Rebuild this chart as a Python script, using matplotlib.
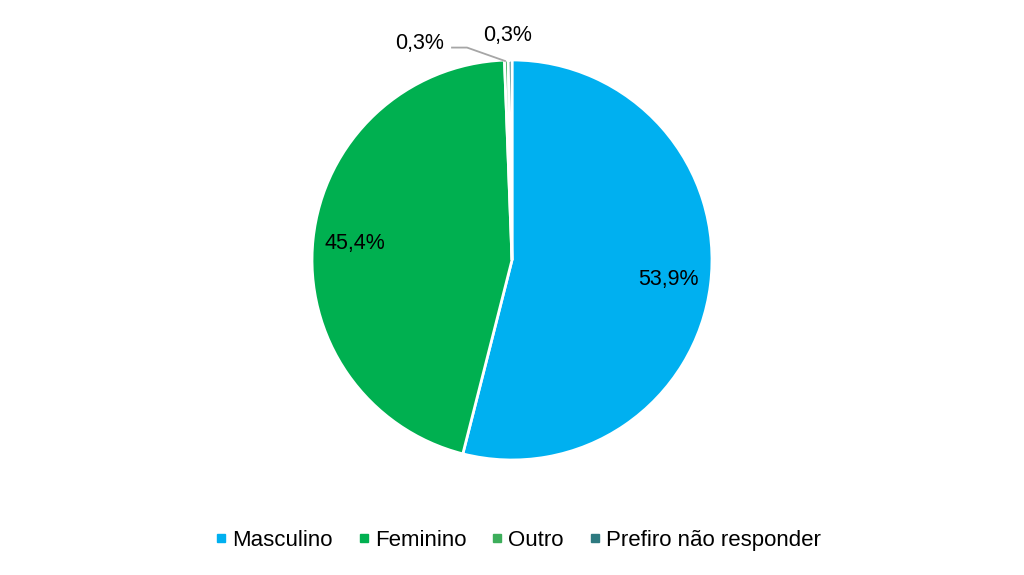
import matplotlib
matplotlib.use("Agg")
import matplotlib.pyplot as plt
from matplotlib.lines import Line2D
import numpy as np

categories = ["Masculino", "Feminino", "Outro", "Prefiro não responder"]
values = [53.9, 45.4, 0.3, 0.3]
colors = ["#00B0F0", "#00B050", "#3DAE5B", "#2E7A80"]

plt.rcParams['font.family'] = ['Liberation Sans', 'DejaVu Sans']

fig = plt.figure(figsize=(10.24, 5.75), dpi=100)
ax = fig.add_axes([0.3047, 0.2, 0.3906, 0.6957])

def fmt(v):
    return f"{v:.1f}%".replace(".", ",")

wedges, _ = ax.pie(values, colors=colors, startangle=90, counterclock=False,
                   radius=1, wedgeprops=dict(edgecolor="white", linewidth=2))
ax.set_xlim(-1, 1)
ax.set_ylim(-1, 1)
ax.set_aspect('auto')
ax.axis('off')

FS = 15.5
for w, v in zip(wedges, values):
    ang = np.deg2rad((w.theta1 + w.theta2) / 2)
    if v > 5:
        r = 0.79
        ax.text(r * np.cos(ang), r * np.sin(ang), fmt(v), ha='center', va='center',
                fontsize=FS, color='black')

# small slices: outside labels
ax.text(-0.46, 1.08, fmt(values[2]), ha='center', va='center', fontsize=FS)
ax.plot([-0.30, -0.225, -0.035], [1.062, 1.062, 0.995], color='#A6A6A6', lw=1.3,
        clip_on=False)
ax.text(-0.02, 1.12, fmt(values[3]), ha='center', va='center', fontsize=FS)

handles = [Line2D([0], [0], marker='s', linestyle='', markersize=6,
                  markerfacecolor=c, markeredgecolor=c) for c in colors]
fig.legend(handles, categories, loc='center', bbox_to_anchor=(0.505, 0.06),
           ncol=4, frameon=False, fontsize=16, handletextpad=0.15,
           columnspacing=1.05, handlelength=0.7)

fig.savefig("out.png", dpi=100, facecolor='white')
